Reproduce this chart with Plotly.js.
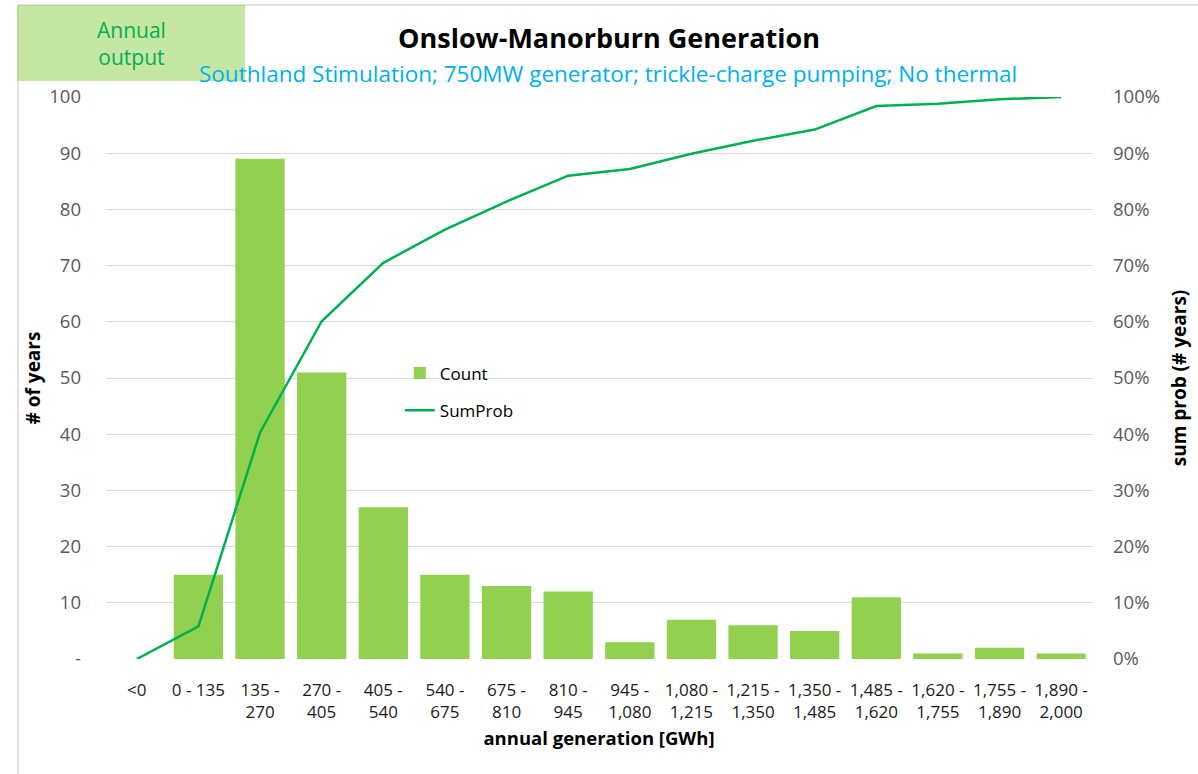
<!DOCTYPE html>
<html>
<head>
<meta charset="utf-8">
<script src="https://cdn.plot.ly/plotly-3.0.1.min.js"></script>
<style>html,body{margin:0;padding:0;background:#fff;}#chart{width:1198px;height:774px;}</style>
</head>
<body>
<div id="chart"></div>
<script>
const categories = ["<0","0 - 135","135 - 270","270 - 405","405 - 540","540 - 675","675 - 810","810 - 945","945 - 1,080","1,080 - 1,215","1,215 - 1,350","1,350 - 1,485","1,485 - 1,620","1,620 - 1,755","1,755 - 1,890","1,890 - 2,000"];
const tickLabels = ["<0","0 - 135","135 -<br>270","270 -<br>405","405 -<br>540","540 -<br>675","675 -<br>810","810 -<br>945","945 -<br>1,080","1,080 -<br>1,215","1,215 -<br>1,350","1,350 -<br>1,485","1,485 -<br>1,620","1,620 -<br>1,755","1,755 -<br>1,890","1,890 -<br>2,000"];
const countValues = [0,15,89,51,27,15,13,12,3,7,6,5,11,1,2,1];
const sumProbValues = [0,0.058,0.403,0.601,0.705,0.764,0.814,0.860,0.872,0.899,0.922,0.942,0.984,0.988,0.996,1.0];
const leftTickVals = [0,10,20,30,40,50,60,70,80,90,100];
const leftTickText = ["-","10","20","30","40","50","60","70","80","90","100"];

const FONT = "Open Sans, Noto Sans, sans-serif";

const traces = [
  {type:"bar", name:"Count", legendgroup:"a", x:categories, y:countValues, marker:{color:"#92D050"}, yaxis:"y"},
  {type:"scatter", mode:"lines", name:"SumProb", legendgroup:"b", x:categories, y:sumProbValues, line:{color:"#00B050", width:2.5}, yaxis:"y2"}
];

const layout = {
  width:1198, height:774,
  margin:{l:106, r:106, t:97, b:115},
  paper_bgcolor:"#fff", plot_bgcolor:"#fff",
  font:{family:FONT, color:"#595959", size:16},
  bargap:0.2,
  showlegend:true,
  legend:{x:0.298, y:0.54, xanchor:"left", yanchor:"top", font:{size:17, color:"#000"}, bgcolor:"rgba(0,0,0,0)", tracegroupgap:12},
  xaxis:{type:"category", tickvals:categories, ticktext:tickLabels, showgrid:false, showline:false, zeroline:false, ticks:"", tickfont:{size:17, color:"#1a1a1a"}, ticklabelstandoff:19,
    title:{text:"<b>annual generation [GWh]</b>", font:{size:18.5, color:"#000"}, standoff:9}},
  yaxis:{range:[0,100], tickvals:leftTickVals, ticktext:leftTickText, gridcolor:"#D9D9D9", gridwidth:1, zeroline:false, showline:false, ticks:"", tickfont:{size:18.5, color:"#595959"}, ticklabelstandoff:24,
    title:{text:"<b># of years</b>", font:{size:19, color:"#000"}, standoff:3}},
  yaxis2:{range:[0,1], overlaying:"y", side:"right", tickformat:".0%", dtick:0.1, showgrid:false, zeroline:false, showline:false, ticks:"", tickfont:{size:18.5, color:"#595959"}, ticklabelstandoff:20,
    title:{text:"<b>sum prob (# years)</b>", font:{size:19, color:"#000"}, standoff:13}},
  shapes:[
    {type:"line", xref:"paper", yref:"paper", x0:-0.0893, x1:1.12, y0:1.1637, y1:1.1637, line:{color:"#D9D9D9", width:1.5}},
    {type:"line", xref:"paper", yref:"paper", x0:-0.0893, x1:-0.0893, y0:1.1637, y1:-0.22, line:{color:"#D9D9D9", width:1.5}},
    {type:"rect", xref:"paper", yref:"paper", x0:-0.0903, x1:0.141, y0:1.0285, y1:1.1637, fillcolor:"rgba(146,208,80,0.52)", line:{width:0}, layer:"above"}
  ],
  annotations:[
    {xref:"paper", yref:"paper", x:0.510, y:1.105, text:"<b>Onslow-Manorburn Generation</b>", showarrow:false, font:{size:27, color:"#000"}, xanchor:"center", yanchor:"middle"},
    {xref:"paper", yref:"paper", x:0.5096, y:1.0427, text:"Southland Stimulation; 750MW generator; trickle-charge pumping; No thermal", showarrow:false, font:{size:22.5, color:"#00B0F0"}, xanchor:"center", yanchor:"middle"},
    {xref:"paper", yref:"paper", x:0.0254, y:1.096, text:"Annual<br>output", showarrow:false, font:{size:21, color:"#00B050"}, xanchor:"center", yanchor:"middle"}
  ]
};

Plotly.newPlot("chart", traces, layout, {displayModeBar:false});
</script>
</body>
</html>
